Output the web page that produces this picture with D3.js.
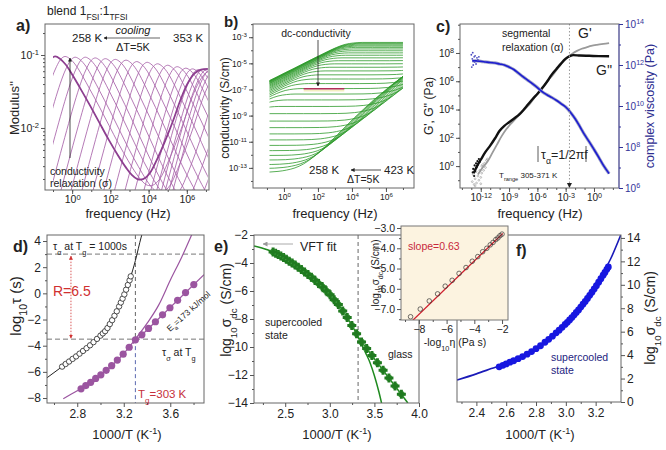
<!DOCTYPE html>
<html>
<head>
<meta charset="utf-8">
<script src="https://cdn.jsdelivr.net/npm/d3@7/dist/d3.min.js"></script>
<style>
  body { margin: 0; background: #fff; }
</style>
</head>
<body>
<script>
// ---------- a) electric modulus M'' spectra, 258 -> 353 K ----------
var aTemps = [258,263,268,273,278,283,288,293,298,303,308,313,318,323,328,333,338,343,348,353];
// 258 K curve (thick one), its low-frequency flank read from the rising branches
var aMasterF = [-3.59,-3.09,-2.59,-2.19,-1.89,-1.59,-1.34,-1.09,-0.89,-0.64,-0.34,0.01,0.41,0.91,1.41,1.91,2.41,2.81,3.11,3.41,3.71,4.06,4.46,4.86,5.31,5.66,6.04,6.41,6.74,7.11];
var aMasterM = [-3.2,-2.7,-2.21,-1.83,-1.56,-1.32,-1.16,-1.05,-1.02,-1.05,-1.13,-1.27,-1.45,-1.68,-1.92,-2.16,-2.38,-2.54,-2.64,-2.7,-2.7,-2.62,-2.42,-2.18,-1.88,-1.62,-1.39,-1.25,-1.2,-1.19];
var aPeakF = [-0.89,-0.37,0.16,0.69,1.21,1.74,2.26,2.82,3.38,3.93,4.47,5.0,5.5,5.95,6.3,6.6,6.85,7.05,7.25,7.45];
var aPeakM = [-1.02,-1.02,-1.03,-1.03,-1.04,-1.05,-1.06,-1.07,-1.09,-1.1,-1.12,-1.14,-1.16,-1.18,-1.19,-1.2,-1.2,-1.2,-1.2,-1.2];
var aDepth = [1,1.05,1.1,1.14,1.18,1.2,1.2,1.2,1.2,1.2,1.2,1.2,1.2,1.2,1.2,1.2,1.2,1.2,1.2,1.2];
var aXTicks = [0,2,4,6], aYTicks = [-2,-1];

// ---------- b) conductivity spectra, 258 -> 423 K ----------
var bTemps = d3.range(258, 424, 5);
var bDc = [-13.35,-13.05,-12.75,-12.4,-12.05,-11.68,-11.28,-10.86,-10.4,-9.92,-9.42,-8.85,-8.3,-7.8,-7.35,-6.93,-6.55,-6.2,-5.88,-5.58,-5.3,-5.04,-4.8,-4.58,-4.38,-4.2,-4.04,-3.9,-3.78,-3.68,-3.6,-3.52,-3.46,-3.4];
// master shape (log f - log sdc, log s - log sdc): electrode polarisation, plateau, dispersion
var bMasterU = [2,2.5,3,3.5,4,4.5,5,5.5,6,6.5,7,7.5,8,9,10,11,12,12.5,13,13.5,14,14.5,15,15.5,16,16.5,17,17.5,18,18.5,19,19.5,20,20.5,21];
var bMasterV = [-3.25,-2.95,-2.63,-2.3,-1.98,-1.65,-1.32,-1,-0.68,-0.38,-0.15,-0.04,0,0,0,0,0.01,0.03,0.08,0.18,0.35,0.65,1.1,1.65,2.25,2.9,3.55,4.2,4.8,5.4,5.95,6.5,7,7.5,8];
var bXTicks = [0,2,4,6], bYTicks = [-13,-11,-9,-7,-5,-3];

// ---------- c) rheology master curves ----------
var cGppF = [-12.75,-12.4,-12,-11.5,-11,-10.5,-10,-9.5,-9,-8.5,-8,-7.5,-7,-6.5,-6,-5.5,-5,-4.5,-4,-3.5,-3,-2.5,-2.2,-1.5,-0.5,0.5,1.6];
var cGppV = [-0.5,0,0.45,1,1.45,1.95,2.5,2.85,3.1,3.35,3.6,3.95,4.35,4.75,5.1,5.5,5.95,6.45,6.85,7.25,7.6,7.8,7.85,7.82,7.8,7.78,7.77];
var cGpF = [-12.3,-11.8,-11.3,-10.8,-10.3,-9.8,-9.3,-8.8,-8.3,-7.8,-7.3,-6.8,-6.3,-5.8,-5.3,-4.8,-4.3,-3.8,-3.3,-2.8,-2.3,-1.8,-1.3,-0.8,-0.3,0.3,1,1.6];
var cGpV = [-0.6,-0.1,0.3,0.9,1.5,2.1,2.6,3,3.35,3.7,4.05,4.4,4.85,5.3,5.7,6.1,6.5,6.95,7.35,7.7,7.95,8.15,8.3,8.4,8.5,8.58,8.65,8.7];
var cEtaF = [-12.9,-12.5,-12,-11.5,-11,-10.5,-10,-9.5,-9,-8.5,-8,-7.5,-7,-6.5,-6,-5.5,-5,-4.5,-4,-3.5,-3,-2.5,-2,-1.5,-1,-0.5,0,0.5,1,1.6];
var cEtaV = [12.2,12.2,12.18,12.15,12.12,12.1,12.05,12,11.9,11.78,11.6,11.42,11.25,11.08,10.9,10.7,10.55,10.42,10.28,10.12,9.95,9.7,9.38,9,8.6,8.25,7.88,7.5,7.1,6.7];
var cGppScatF = [-12.85,-12.8,-12.7,-12.65,-12.6,-12.5,-12.45,-12.35,-12.3,-12.2,-12.1];
var cGppScatV = [-0.45,-0.2,-0.7,0.05,-0.35,0.2,-0.1,0.35,0.1,0.5,0.3];
var cGpScatF = [-12.9,-12.8,-12.7,-12.6,-12.5,-12.45,-12.3,-12.2,-12.1,-12,-11.9,-11.8,-11.7,-11.6,-11.5,-11.4,-11.3,-12.6,-12,-11.9];
var cGpScatV = [-1.1,-0.6,-1.3,-0.9,-0.4,-1.2,-0.7,-1,-0.3,-0.8,-0.5,0.1,-0.3,0.2,-0.1,0.4,0.5,-1.4,-1.25,0];
var cEtaScatF = [-13,-12.95,-12.9,-12.85,-12.8,-12.7,-12.65,-12.6,-12.5,-12.4,-12.3,-12.2];
var cEtaScatV = [12.5,11.9,12.3,12.6,12,12.4,12.15,12.45,12.05,12.35,12.25,12.4];
var cXTicks = [-12,-9,-6,-3,0], cYTicks = [0,2,4,6,8], cY2Ticks = [6,8,10,12,14];

// ---------- d) relaxation times ----------
var dAlphaX = [2.67,2.7,2.73,2.76,2.79,2.82,2.85,2.88,2.91,2.94,2.97,3,3.02,3.04,3.06,3.08,3.1,3.12,3.14,3.16,3.175,3.19,3.205,3.22,3.235,3.25,3.26];
var dAlphaY = [-5.6,-5.4,-5.21,-5.01,-4.82,-4.61,-4.4,-4.19,-3.97,-3.73,-3.48,-3.23,-3.06,-2.89,-2.65,-2.35,-2.05,-1.71,-1.37,-1,-0.7,-0.4,-0.08,0.28,0.64,1,1.3];
var dAlphaFitX = [2.54,2.67,2.8,2.9,2.98,3.05,3.1,3.15,3.2,3.25,3.3,3.35,3.37];
var dAlphaFitY = [-6.45,-5.6,-4.75,-4.05,-3.4,-2.8,-2.05,-1.2,-0.2,1,2.5,4.3,4.9];
var dSigTemps = [353,348,343,338,333,328,323,318,313,308,303,298,293,288,283,278,273,268,263];
var dSigY = [-7.3,-7.05,-6.8,-6.5,-6.23,-5.88,-5.53,-5.1,-4.65,-4.12,-3.55,-3.17,-2.68,-2.17,-1.64,-1.1,-0.53,0.06,0.67];
var dSigFitX = [2.68,2.8,2.9,3,3.1,3.2,3.3,3.4,3.5,3.6,3.7,3.8];
var dSigFitY = [-8.05,-7.45,-6.9,-6.25,-5.5,-4.6,-3.5,-2.3,-0.9,1,2.8,4.8];
var dArrX = [3.28,3.89], dArrY = [-3.83,1.42];

// ---------- e) dc conductivity ----------
var eTemps = d3.range(263, 424, 5);
var eSig = [-13.38,-12.79,-12.21,-11.66,-11.13,-10.61,-10.11,-9.64,-9.05,-8.47,-7.9,-7.43,-6.97,-6.62,-6.27,-5.98,-5.7,-5.46,-5.23,-5.01,-4.83,-4.64,-4.46,-4.31,-4.15,-4,-3.87,-3.73,-3.61,-3.5,-3.4,-3.3,-3.22];
var eVftX = [2.15,2.3,2.4,2.5,2.6,2.7,2.8,2.9,3,3.1,3.2,3.3,3.4,3.45,3.5,3.55,3.58];
var eVftY = [-2.78,-3.05,-3.32,-3.68,-4.1,-4.55,-5.05,-5.6,-6.25,-7,-7.95,-9.05,-10.4,-11.1,-12.05,-13.2,-14];
var eGlassX = [3.31,3.875], eGlassY = [-9.25,-14];

// ---------- f) viscosity ----------
var fInvT = [2.553,2.578,2.6,2.625,2.65,2.68,2.71,2.74,2.77,2.8,2.83,2.86,2.885,2.91,2.935,2.955,2.975,2.995,3.01,3.025,3.04,3.055,3.07,3.085,3.1,3.115,3.13,3.145,3.16,3.175,3.19,3.205,3.22,3.235,3.25,3.262,3.275,3.285];
var fEta = [3,3.13,3.25,3.4,3.52,3.7,3.88,4.08,4.3,4.55,4.8,5.1,5.35,5.62,5.9,6.13,6.37,6.62,6.8,7,7.2,7.42,7.64,7.86,8.1,8.34,8.58,8.83,9.1,9.37,9.65,9.93,10.22,10.52,10.82,11.06,11.32,11.52];
var fFitX = [2.27,2.4,2.5,2.6,2.7,2.8,2.9,3,3.1,3.2,3.3,3.37];
var fFitY = [1.87,2.4,2.85,3.3,3.88,4.6,5.5,6.75,8.3,10.05,12.2,14.3];

// inset: sigma_dc vs fluidity
var insX = [-8.6,-7.9,-7.25,-6.65,-6.1,-5.6,-5.1,-4.6,-4.15,-3.75,-3.4,-3.1,-2.85,-2.65,-2.45,-2.3,-2.15,-2];
var insY = [-7.38,-7.0,-6.6,-6.25,-5.87,-5.58,-5.24,-4.95,-4.64,-4.41,-4.17,-4,-3.83,-3.71,-3.57,-3.49,-3.38,-3.3];
var insFitX = [-8.45,-1.95], insFitY = [-7.56,-3.27];

// ================= drawing =================
var F = '"Liberation Sans", Arial, Helvetica, sans-serif';
var svg = d3.select('body').append('svg')
  .attr('width', 666).attr('height', 450)
  .style('font-family', F).style('background', '#fff');

var defs = svg.append('defs');
function marker(id, col, w) {
  defs.append('marker').attr('id', id).attr('viewBox', '0 0 10 10').attr('refX', 9).attr('refY', 5)
    .attr('markerWidth', w).attr('markerHeight', w).attr('orient', 'auto-start-reverse')
    .append('path').attr('d', 'M0,0 L10,5 L0,10 z').attr('fill', col);
}
marker('arrK', '#222', 5);
marker('arrR', '#d03030', 5);
marker('arrG', '#999', 5);

function panel(r, xd, yd) {
  var p = { x: d3.scaleLinear().domain(xd).range([r[0], r[1]]),
            y: d3.scaleLinear().domain(yd).range([r[3], r[2]]),
            x0: r[0], x1: r[1], y0: r[2], y1: r[3] };
  p.g = svg.append('g');
  return p;
}
function clip(p, id, xa, xb) {
  var a = xa == null ? p.x0 : p.x(xa), b = xb == null ? p.x1 : p.x(xb);
  defs.append('clipPath').attr('id', id).append('rect')
    .attr('x', a).attr('y', p.y0).attr('width', b - a).attr('height', p.y1 - p.y0);
  return p.g.append('g').attr('clip-path', 'url(#' + id + ')');
}
function frame(p, col) {
  p.g.append('rect').attr('x', p.x0).attr('y', p.y0)
    .attr('width', p.x1 - p.x0).attr('height', p.y1 - p.y0)
    .attr('fill', 'none').attr('stroke', col || '#666').attr('stroke-width', 1);
}
function gen(p, side) {
  return side === 'bottom' ? d3.axisBottom(p.x) : side === 'left' ? d3.axisLeft(p.y) : d3.axisRight(p.y);
}
function axis(p, side, major, minor, fs, fmt, col) {
  var tr = side === 'bottom' ? 'translate(0,' + p.y1 + ')' :
           side === 'left' ? 'translate(' + p.x0 + ',0)' : 'translate(' + p.x1 + ',0)';
  col = col || '#555';
  if (minor) {
    var gm = p.g.append('g').attr('transform', tr)
      .call(gen(p, side).tickValues(minor).tickSize(2).tickFormat(''));
    gm.select('.domain').remove();
    gm.selectAll('line').attr('stroke', col);
  }
  var ax = gen(p, side).tickValues(major).tickSize(4).tickPadding(2);
  if (fmt) ax.tickFormat(fmt);
  var ga = p.g.append('g').attr('transform', tr).call(ax);
  ga.attr('font-family', F).attr('font-size', fs);
  ga.select('.domain').remove();
  ga.selectAll('line').attr('stroke', col);
  ga.selectAll('text').attr('fill', col === '#555' ? '#222' : col);
  return ga;
}
function pow10(ga) {
  ga.selectAll('.tick text').each(function (d) {
    var t = d3.select(this).text('10');
    t.append('tspan').attr('dy', '-0.5em').attr('font-size', '72%').text(d);
  });
}
function label(x, y, parts, o) {
  o = o || {};
  var t = svg.append('text').attr('x', x).attr('y', y).attr('font-size', o.size || 11)
    .attr('fill', o.fill || '#222').attr('text-anchor', o.anchor || 'start');
  if (o.rotate) t.attr('transform', 'rotate(' + o.rotate + ',' + x + ',' + y + ')');
  if (o.bold) t.attr('font-weight', 'bold');
  if (o.italic) t.attr('font-style', 'italic');
  (typeof parts === 'string' ? [[parts]] : parts).forEach(function (pt) {
    var s = t.append('tspan').text(pt[0]);
    if (pt[1] === 'sub') s.attr('baseline-shift', 'sub').attr('font-size', '70%');
    if (pt[1] === 'sup') s.attr('baseline-shift', 'super').attr('font-size', '70%');
  });
  return t;
}
function seg(x1, y1, x2, y2, col, w, dash, mk) {
  var l = svg.append('line').attr('x1', x1).attr('y1', y1).attr('x2', x2).attr('y2', y2)
    .attr('stroke', col).attr('stroke-width', w || 1);
  if (dash) l.attr('stroke-dasharray', dash);
  if (mk) l.attr('marker-end', 'url(#' + mk + ')');
  return l;
}
function zip(xs, ys) { return xs.map(function (v, i) { return [v, ys[i]]; }); }
function lineOf(p, curve) {
  return d3.line().x(function (d) { return p.x(d[0]); }).y(function (d) { return p.y(d[1]); })
    .curve(curve || d3.curveMonotoneX);
}
function decades(a, b) { return d3.range(Math.ceil(a), Math.floor(b) + 1); }

// ---------- panel a ----------
var pa = panel([45, 209, 24, 190], [-1.42, 7.16], [-2.85, -0.575]);
var ca = clip(pa, 'ca', -1, 7.1);
var aPk = 8;
var aCurves = aPeakF.map(function (pf, i) {
  return aMasterF.map(function (f, j) {
    var dy = aMasterM[j] - aMasterM[aPk];
    return [pf + f - aMasterF[aPk], aPeakM[i] + (j > aPk ? dy * aDepth[i] : dy)];
  });
});
ca.selectAll('path.a').data(aCurves.slice(1)).enter().append('path')
  .attr('d', lineOf(pa, d3.curveCatmullRom)).attr('fill', 'none')
  .attr('stroke', '#a862a9').attr('stroke-width', 0.85);
ca.append('path').attr('d', lineOf(pa, d3.curveCatmullRom)(aCurves[0])).attr('fill', 'none')
  .attr('stroke', '#8d3f90').attr('stroke-width', 1.8);
frame(pa);
var aMinorY = [];
[-3, -2, -1].forEach(function (n) { d3.range(2, 10).forEach(function (k) {
  var v = n + Math.log10(k); if (v > -2.85 && v < -0.575) aMinorY.push(v); }); });
pow10(axis(pa, 'bottom', aXTicks, decades(-1, 7), 10.5));
pow10(axis(pa, 'left', aYTicks, aMinorY, 10.5));
label(16, 31, 'a)', { size: 16, bold: true });
label(47, 15, [['blend 1'], ['FSI', 'sub'], [':1'], ['TFSI', 'sub']], { size: 12 });
label(19, 108, "Modulus''", { size: 13, rotate: -90, anchor: 'middle' });
label(128, 218, 'frequency (Hz)', { size: 13, anchor: 'middle' });
label(72, 42, '258 K', { size: 11.5 });
label(173, 42, '353 K', { size: 11.5 });
label(133, 34, 'cooling', { size: 11, italic: true, anchor: 'middle' });
label(133, 51, '\u0394T=5K', { size: 11, anchor: 'middle' });
seg(160, 38, 104, 38, '#222', 0.7, null, 'arrK');
seg(70, 158, 70, 58, '#222', 0.8, null, 'arrK');
label(50, 175, 'conductivity', { size: 10.5 });
label(50, 187, 'relaxation (\u03c3)', { size: 10.5 });

// ---------- panel b ----------
var pb = panel([253, 414, 24, 188], [-1.82, 7.65], [-14.54, -1.99]);
var cb = clip(pb, 'cb', -0.85, 7.0);
var bCurves = bDc.map(function (s) {
  return bMasterU.map(function (u, j) { return [u + s, bMasterV[j] + s]; });
});
cb.selectAll('path').data(bCurves).enter().append('path')
  .attr('d', lineOf(pb)).attr('fill', 'none')
  .attr('stroke', '#2f9a2c').attr('stroke-width', 0.8);
// dc plateau highlight
pb.g.append('line').attr('x1', pb.x(1.16)).attr('x2', pb.x(3.55))
  .attr('y1', pb.y(-6.94) + 1.8).attr('y2', pb.y(-6.94) + 1.8)
  .attr('stroke', '#f3efc0').attr('stroke-width', 2.2);
pb.g.append('line').attr('x1', pb.x(1.16)).attr('x2', pb.x(3.55))
  .attr('y1', pb.y(-6.94)).attr('y2', pb.y(-6.94))
  .attr('stroke', '#b0305a').attr('stroke-width', 1.6);
frame(pb);
pow10(axis(pb, 'bottom', bXTicks, decades(-1, 7), 8.5));
pow10(axis(pb, 'left', bYTicks, decades(-14, -2), 8.5));
label(224, 27, 'b)', { size: 15, bold: true });
label(229, 108, 'conductivity (S/cm)', { size: 12, rotate: -90, anchor: 'middle' });
label(335, 218, 'frequency (Hz)', { size: 13, anchor: 'middle' });
label(316, 37, 'dc-conductivity', { size: 10.5, anchor: 'middle' });
seg(318, 40, 318, 86, '#222', 0.8, null, 'arrK');
label(309, 174, '258 K', { size: 11.5 });
label(384, 174, '423 K', { size: 11.5 });
seg(381, 170, 351, 170, '#222', 0.8, null, 'arrK');
label(347, 183, '\u0394T=5K', { size: 10.5 });

// ---------- panel c ----------
var pc = panel([460, 619, 24, 188], [-14.2, 2.65], [-1.55, 10.05]);
var yEta = d3.scaleLinear().domain([6, 14]).range([188, 24]);
var cc = clip(pc, 'cc');
var etaLine = d3.line().x(function (d) { return pc.x(d[0]); }).y(function (d) { return yEta(d[1]); })
  .curve(d3.curveMonotoneX);
cc.append('path').attr('d', lineOf(pc)(zip(cGpF, cGpV))).attr('fill', 'none')
  .attr('stroke', '#9a9a9a').attr('stroke-width', 1.8);
cc.append('path').attr('d', lineOf(pc)(zip(cGppF, cGppV))).attr('fill', 'none')
  .attr('stroke', '#111').attr('stroke-width', 2.4);
cc.append('path').attr('d', etaLine(zip(cEtaF, cEtaV))).attr('fill', 'none')
  .attr('stroke', '#9fa3c8').attr('stroke-width', 3.2);
cc.append('path').attr('d', etaLine(zip(cEtaF, cEtaV))).attr('fill', 'none')
  .attr('stroke', '#1c1cd0').attr('stroke-width', 1.6);
cc.selectAll('circle.gp').data(zip(cGpScatF, cGpScatV)).enter().append('circle')
  .attr('cx', function (d) { return pc.x(d[0]); }).attr('cy', function (d) { return pc.y(d[1]); })
  .attr('r', 0.9).attr('fill', 'none').attr('stroke', '#999').attr('stroke-width', 0.6);
cc.selectAll('circle.gpp').data(zip(cGppScatF, cGppScatV)).enter().append('circle')
  .attr('cx', function (d) { return pc.x(d[0]); }).attr('cy', function (d) { return pc.y(d[1]); })
  .attr('r', 1.1).attr('fill', '#111');
cc.selectAll('circle.eta').data(zip(cEtaScatF, cEtaScatV)).enter().append('circle')
  .attr('cx', function (d) { return pc.x(d[0]); }).attr('cy', function (d) { return yEta(d[1]); })
  .attr('r', 0.9).attr('fill', '#4a4ac0');
pc.g.append('line').attr('x1', pc.x(-2.6)).attr('x2', pc.x(-2.6)).attr('y1', pc.y0).attr('y2', pc.y1)
  .attr('stroke', '#999').attr('stroke-dasharray', '1.5,2');
pc.g.append('path').attr('d', 'M' + (pc.x(-2.6) - 2.5) + ',' + (pc.y1 - 5) + 'l5,0l-2.5,5z').attr('fill', '#222');
frame(pc);
pc.g.append('line').attr('x1', pc.x1).attr('x2', pc.x1).attr('y1', pc.y0).attr('y2', pc.y1)
  .attr('stroke', '#6a6ab8').attr('stroke-width', 1.2);
pow10(axis(pc, 'bottom', cXTicks, decades(-14, 2), 10));
pow10(axis(pc, 'left', cYTicks, decades(-1, 10), 10));
var pc2 = { x: pc.x, y: yEta, x0: pc.x0, x1: pc.x1, y0: pc.y0, y1: pc.y1, g: pc.g };
pow10(axis(pc2, 'right', cY2Ticks, decades(6, 14), 10, null, '#33339a'));
label(436, 32, 'c)', { size: 16, bold: true });
label(433, 106, [["G', G'' (Pa)"]], { size: 12, rotate: -90, anchor: 'middle' });
label(654, 106, 'complex viscosity (Pa)', { size: 12.5, rotate: -90, anchor: 'middle', fill: '#2d2d90' });
label(540, 218, 'frequency (Hz)', { size: 13, anchor: 'middle' });
label(502, 37, 'segmental', { size: 10.5 });
label(502, 51, 'relaxation (\u03b1)', { size: 10.5 });
label(578, 38, "G'", { size: 14 });
label(596, 75, "G''", { size: 14 });
label(541, 159, [['\u03c4'], ['\u03b1', 'sub'], ['=1/2\u03c0f']], { size: 12.5 });
seg(538, 146, 538, 162, '#333', 0.8);
seg(586, 146, 586, 162, '#333', 0.8);
label(499, 178, [['T'], ['range', 'sub'], [' 305-371 K']], { size: 8 });

// ---------- panel d ----------
var pd = panel([47, 204, 235, 403], [2.54, 3.89], [-8.38, 4.46]);
var cd = clip(pd, 'cd');
var dTg = 3.30;
cd.append('line').attr('x1', pd.x0).attr('x2', pd.x1).attr('y1', pd.y(3)).attr('y2', pd.y(3))
  .attr('stroke', '#777').attr('stroke-dasharray', '5,3');
cd.append('line').attr('x1', pd.x0).attr('x2', pd.x1).attr('y1', pd.y(-3.5)).attr('y2', pd.y(-3.5))
  .attr('stroke', '#777').attr('stroke-dasharray', '5,3');
cd.append('line').attr('x1', pd.x(dTg)).attr('x2', pd.x(dTg)).attr('y1', pd.y0).attr('y2', pd.y(-3.5))
  .attr('stroke', '#666').attr('stroke-dasharray', '4,3');
cd.append('line').attr('x1', pd.x(dTg)).attr('x2', pd.x(dTg)).attr('y1', pd.y(-3.5)).attr('y2', pd.y1)
  .attr('stroke', '#5b68b0').attr('stroke-dasharray', '4,3');
cd.append('path').attr('d', lineOf(pd)(zip(dAlphaFitX, dAlphaFitY))).attr('fill', 'none')
  .attr('stroke', '#222').attr('stroke-width', 1);
cd.selectAll('circle.ta').data(zip(dAlphaX, dAlphaY)).enter().append('circle')
  .attr('cx', function (d) { return pd.x(d[0]); }).attr('cy', function (d) { return pd.y(d[1]); })
  .attr('r', 2.7).attr('fill', '#fff').attr('stroke', '#222').attr('stroke-width', 0.8);
cd.append('path').attr('d', lineOf(pd)(zip(dSigFitX, dSigFitY))).attr('fill', 'none')
  .attr('stroke', '#9b55a0').attr('stroke-width', 1.2);
cd.append('path').attr('d', lineOf(pd, d3.curveLinear)(zip(dArrX, dArrY))).attr('fill', 'none')
  .attr('stroke', '#9b55a0').attr('stroke-width', 1.2);
cd.selectAll('circle.ts').data(dSigTemps).enter().append('circle')
  .attr('cx', function (t) { return pd.x(1000 / t); })
  .attr('cy', function (t, i) { return pd.y(dSigY[i]); })
  .attr('r', 3.6).attr('fill', '#9b55a0');
frame(pd);
axis(pd, 'bottom', [2.8, 3.2, 3.6], [2.6, 3.0, 3.4, 3.8], 12, d3.format('.1f'));
axis(pd, 'left', [-8, -6, -4, -2, 0, 2, 4], [-7, -5, -3, -1, 1, 3], 12);
seg(pd.x(2.746), pd.y(-3.5) - 1, pd.x(2.746), pd.y(3) + 2, '#d03030', 0.8, '1.5,1.5', 'arrR')
  .attr('marker-start', 'url(#arrR)');
label(13, 252, 'd)', { size: 16, bold: true });
label(21, 306, [['log'], ['10', 'sub'], ['\u03c4 (s)']], { size: 15, rotate: -90, anchor: 'middle' });
label(127, 439, [['1000/T (K'], ['-1', 'sup'], [')']], { size: 13, anchor: 'middle' });
label(53, 250, [['\u03c4'], ['\u03b1', 'sub'], [' at T'], ['g', 'sub'], [' = 1000s']], { size: 10.5 });
label(53, 296, 'R=6.5', { size: 14, fill: '#d03030' });
label(162, 356, [['\u03c4'], ['\u03c3', 'sub'], [' at T'], ['g', 'sub']], { size: 10.5 });
label(138, 398, [['T'], ['g', 'sub'], ['=303 K']], { size: 11.5, fill: '#c62f3a' });
label(170, 332, [['E'], ['a', 'sub'], ['=173 kJ/mol']], { size: 8.5, rotate: -42 });

// ---------- panel e ----------
var pe = panel([254, 419, 235, 403], [2.15, 4.0], [-14, -2]);
var ce = clip(pe, 'ce');
ce.append('line').attr('x1', pe.x(3.317)).attr('x2', pe.x(3.317)).attr('y1', pe.y0).attr('y2', pe.y1)
  .attr('stroke', '#666').attr('stroke-dasharray', '4,3');
ce.append('path').attr('d', lineOf(pe)(zip(eVftX, eVftY))).attr('fill', 'none')
  .attr('stroke', '#1f8a1f').attr('stroke-width', 1.5);
ce.append('path').attr('d', lineOf(pe, d3.curveLinear)(zip(eGlassX, eGlassY))).attr('fill', 'none')
  .attr('stroke', '#1f8a1f').attr('stroke-width', 1.5);
var eDots = ce.selectAll('g.ed').data(eTemps).enter().append('g')
  .attr('transform', function (t, i) { return 'translate(' + pe.x(1000 / t) + ',' + pe.y(eSig[i]) + ')'; });
eDots.append('circle').attr('r', 3.3).attr('fill', '#3a9a3a');
eDots.append('path').attr('d', d3.symbol().type(d3.symbolCross).size(45)).attr('fill', '#207a20');
frame(pe);
axis(pe, 'bottom', [2.5, 3.0, 3.5, 4.0], [2.25, 2.75, 3.25, 3.75], 12, d3.format('.1f'));
axis(pe, 'left', [-14, -12, -10, -8, -6, -4, -2], [-13, -11, -9, -7, -5, -3], 12);
label(214, 252, 'e)', { size: 16, bold: true });
label(231, 310, [['log'], ['10', 'sub'], ['\u03c3'], ['dc', 'sub'], [' (S/cm)']], { size: 14, rotate: -90, anchor: 'middle' });
label(337, 439, [['1000/T (K'], ['-1', 'sup'], [')']], { size: 13, anchor: 'middle' });
seg(293, 244, 263, 244, '#aaa', 1, null, 'arrG');
label(300, 251, 'VFT fit', { size: 12.5 });
label(265, 326, 'supercooled', { size: 10.5 });
label(265, 339, 'state', { size: 10.5 });
label(388, 358, 'glass', { size: 10.5 });

// ---------- panel f ----------
var pf = panel([457, 621, 235, 402], [2.27, 3.37], [0, 14.25]);
var cf = clip(pf, 'cf');
cf.append('path').attr('d', lineOf(pf)(zip(fFitX, fFitY))).attr('fill', 'none')
  .attr('stroke', '#1a1ab8').attr('stroke-width', 1.6);
cf.selectAll('circle').data(zip(fInvT, fEta)).enter().append('circle')
  .attr('cx', function (d) { return pf.x(d[0]); }).attr('cy', function (d) { return pf.y(d[1]); })
  .attr('r', 3.4).attr('fill', '#1717e0');
frame(pf);
axis(pf, 'bottom', [2.4, 2.6, 2.8, 3.0, 3.2], [2.3, 2.5, 2.7, 2.9, 3.1, 3.3], 12, d3.format('.1f'));
axis(pf, 'right', [0, 2, 4, 6, 8, 10, 12, 14], [1, 3, 5, 7, 9, 11, 13], 12);
label(516, 256, 'f)', { size: 16, bold: true });
label(655, 318, [['log'], ['10', 'sub'], ['\u03c3'], ['dc', 'sub'], [' (S/cm)']], { size: 14, rotate: -90, anchor: 'middle' });
label(540, 439, [['1000/T (K'], ['-1', 'sup'], [')']], { size: 13, anchor: 'middle' });
label(551, 361, 'supercooled', { size: 10.5, fill: '#232380' });
label(551, 374, 'state', { size: 10.5, fill: '#232380' });

// ---------- inset ----------
var pi = panel([401, 508, 226, 320], [-9.29, -1.57], [-7.54, -2.9]);
pi.g.append('rect').attr('x', pi.x0).attr('y', pi.y0).attr('width', pi.x1 - pi.x0).attr('height', pi.y1 - pi.y0)
  .attr('fill', '#fcf3e0');
var ci = clip(pi, 'ci');
ci.append('path').attr('d', lineOf(pi, d3.curveLinear)(zip(insFitX, insFitY))).attr('fill', 'none')
  .attr('stroke', '#d0202e').attr('stroke-width', 1.3);
ci.selectAll('circle').data(zip(insX, insY)).enter().append('circle')
  .attr('cx', function (d) { return pi.x(d[0]); }).attr('cy', function (d) { return pi.y(d[1]); })
  .attr('r', 2.3).attr('fill', 'none').attr('stroke', '#333').attr('stroke-width', 0.7);
frame(pi, '#777');
axis(pi, 'bottom', [-8, -6, -4, -2], [-9, -7, -5, -3], 10.5);
axis(pi, 'left', [-7, -6, -5, -4, -3], [-7.5, -6.5, -5.5, -4.5, -3.5], 10.5);
label(408, 250, 'slope=0.63', { size: 10.5, fill: '#c8283c' });
label(379, 273, [['log'], ['10', 'sub'], ['\u03c3'], ['dc', 'sub'], [' (S/cm)']], { size: 10, rotate: -90, anchor: 'middle' });
label(455, 346, [['-log'], ['10', 'sub'], ['\u03b7 (Pa s)']], { size: 10.5, anchor: 'middle' });
</script>
</body>
</html>
